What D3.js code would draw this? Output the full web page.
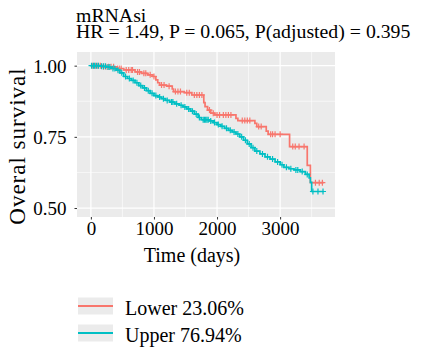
<!DOCTYPE html>
<meta charset="utf-8">
<style>
body { margin: 0; background: #fff; }
</style>
<body>
<script src="https://d3js.org/d3.v7.min.js"></script>
<script>

// step points [time, survival]
const lowerSteps = [[0,1.0],[190,0.996],[400,0.990],[520,0.985],[700,0.978],[800,0.973],[900,0.968],
  [980,0.962],[1030,0.950],[1060,0.940],[1090,0.932],[1200,0.928],[1290,0.918],[1310,0.909],
  [1480,0.905],[1600,0.897],[1790,0.870],[1810,0.856],[1850,0.844],[1900,0.833],[1960,0.827],
  [2300,0.815],[2330,0.807],[2600,0.797],[2630,0.786],[2780,0.770],[2810,0.759],[3150,0.716],
  [3430,0.650],[3480,0.589]];
const lowerEnd = 3690;
const lowerCensor = [30,70,110,150,200,240,280,320,360,420,450,480,560,600,640,660,740,770,840,870,
  940,1000,1120,1160,1240,1340,1380,1420,1520,1560,1640,1680,1720,1760,1880,1940,2000,2040,2100,
  2140,2180,2220,2400,2440,2480,2520,2660,2700,2850,2880,2920,3000,3200,3240,3300,3380,3560,3620,3670];

const upperSteps = [[0,1.0],[150,0.998],[250,0.995],[330,0.990],[400,0.984],[460,0.975],[520,0.962],
  [580,0.955],[640,0.948],[700,0.940],[760,0.930],[820,0.922],[880,0.912],[940,0.903],[1000,0.895],
  [1060,0.890],[1120,0.884],[1180,0.878],[1250,0.872],[1330,0.866],[1400,0.861],[1460,0.855],
  [1520,0.848],[1580,0.840],[1640,0.830],[1700,0.818],[1750,0.810],[1880,0.806],[1940,0.800],
  [2000,0.793],[2060,0.787],[2120,0.780],[2180,0.773],[2240,0.767],[2300,0.760],[2360,0.750],
  [2420,0.738],[2480,0.725],[2540,0.712],[2600,0.700],[2680,0.690],[2760,0.680],[2840,0.672],
  [2920,0.662],[3000,0.652],[3060,0.643],[3140,0.638],[3220,0.634],[3320,0.628],[3400,0.618],
  [3460,0.606],[3480,0.590],[3500,0.558]];
const upperEnd = 3690;
const upperCensor = [10,40,60,90,120,170,200,230,270,300,350,380,430,490,550,610,670,730,790,850,
  910,970,1030,1090,1150,1210,1280,1300,1360,1430,1490,1550,1610,1670,1720,1780,1800,1820,1840,
  1860,1900,1960,2020,2080,2150,2210,2270,2330,2390,2450,2510,2570,2630,2720,2800,2880,2960,3030,
  3100,3170,3250,3280,3350,3430,3520,3600,3680];

const xTicks = [0, 1000, 2000, 3000];
const yTicks = [0.50, 0.75, 1.00];
const groups = ["Lower 23.06%", "Upper 76.94%"];
const colors = ["#F8766D", "#00BFC4"];
const titleLines = ["mRNAsi", "HR = 1.49, P = 0.065, P(adjusted) = 0.395"];

const W = 427, H = 351;
const FONT = "Liberation Serif";
const panel = {left: 77, right: 335, top: 52, bottom: 217};

const svg = d3.select("body").append("svg").attr("width", W).attr("height", H)
  .style("font-family", FONT);

const x = d3.scaleLinear().domain([-220, 3870]).range([panel.left, panel.right]);
const y = d3.scaleLinear().domain([0.4685, 1.048]).range([panel.bottom, panel.top]);

// panel background + grid
svg.append("rect").attr("x", panel.left).attr("y", panel.top)
  .attr("width", panel.right - panel.left).attr("height", panel.bottom - panel.top)
  .attr("fill", "#EBEBEB");

const minorX = [500, 1500, 2500, 3500];
const minorY = [0.625, 0.875];
svg.append("g").selectAll("line").data(minorX).join("line")
  .attr("x1", d => x(d)).attr("x2", d => x(d)).attr("y1", panel.top).attr("y2", panel.bottom)
  .attr("stroke", "#fff").attr("stroke-width", 0.6);
svg.append("g").selectAll("line").data(minorY).join("line")
  .attr("y1", d => y(d)).attr("y2", d => y(d)).attr("x1", panel.left).attr("x2", panel.right)
  .attr("stroke", "#fff").attr("stroke-width", 0.6);
svg.append("g").selectAll("line").data(xTicks).join("line")
  .attr("x1", d => x(d)).attr("x2", d => x(d)).attr("y1", panel.top).attr("y2", panel.bottom)
  .attr("stroke", "#fff").attr("stroke-width", 1.2);
svg.append("g").selectAll("line").data(yTicks).join("line")
  .attr("y1", d => y(d)).attr("y2", d => y(d)).attr("x1", panel.left).attr("x2", panel.right)
  .attr("stroke", "#fff").attr("stroke-width", 1.2);

// survival curves
function stepPath(steps, end) {
  const pts = steps.concat([[end, steps[steps.length - 1][1]]]);
  return d3.line().curve(d3.curveStepAfter).x(d => x(d[0])).y(d => y(d[1]))(pts);
}
function survAt(steps, t) {
  let s = steps[0][1];
  for (const st of steps) { if (st[0] <= t) s = st[1]; }
  return s;
}

const series = [
  {steps: lowerSteps, end: lowerEnd, censor: lowerCensor, color: colors[0]},
  {steps: upperSteps, end: upperEnd, censor: upperCensor, color: colors[1]}
];

series.forEach(sr => {
  svg.append("path").attr("d", stepPath(sr.steps, sr.end))
    .attr("fill", "none").attr("stroke", sr.color).attr("stroke-width", 1.7);
  svg.append("g").selectAll("path").data(sr.censor).join("path")
    .attr("d", t => {
      const cx = x(t), cy = y(survAt(sr.steps, t)), r = 3;
      return `M${cx - r},${cy}H${cx + r}M${cx},${cy - r}V${cy + r}`;
    })
    .attr("stroke", sr.color).attr("stroke-width", 1.2);
});

// axes
const xAxis = svg.append("g").attr("transform", `translate(0,${panel.bottom})`)
  .call(d3.axisBottom(x).tickValues(xTicks).tickSize(2.5).tickPadding(2).tickFormat(d3.format("d")));
const yAxis = svg.append("g").attr("transform", `translate(${panel.left},0)`)
  .call(d3.axisLeft(y).tickValues(yTicks).tickSize(2.5).tickPadding(8).tickFormat(d3.format(".2f")));
[xAxis, yAxis].forEach(a => {
  a.attr("font-family", FONT).attr("font-size", 19);
  a.select(".domain").remove();
  a.selectAll(".tick line").attr("stroke", "#333");
  a.selectAll(".tick text").style("font-family", FONT).attr("fill", "#000");
});
yAxis.selectAll(".tick text").attr("dy", "0.34em");

svg.append("text").attr("x", 192).attr("y", 262)
  .attr("text-anchor", "middle").attr("font-size", 20).text("Time (days)");
svg.append("text").attr("transform", "translate(25,146) rotate(-90)")
  .attr("text-anchor", "middle").attr("font-size", 23).attr("letter-spacing", 1)
  .text("Overal survival");

// title
svg.selectAll(".title").data(titleLines).join("text").attr("class", "title")
  .attr("x", 76).attr("y", (d, i) => 21.5 + i * 16.8)
  .attr("font-size", 19.8).text(d => d);

// legend
const leg = svg.append("g").selectAll("g").data(groups).join("g")
  .attr("transform", (d, i) => `translate(78,${306 + i * 27})`);
leg.append("rect").attr("x", 0).attr("y", -8.5).attr("width", 35).attr("height", 17).attr("fill", "#EBEBEB");
leg.append("line").attr("x1", 0).attr("x2", 35).attr("y1", 0).attr("y2", 0)
  .attr("stroke", (d, i) => colors[i]).attr("stroke-width", 2);
leg.append("text").attr("x", 47).attr("y", 8.5).attr("font-size", 20).text(d => d);

</script>
</body>
</html>
